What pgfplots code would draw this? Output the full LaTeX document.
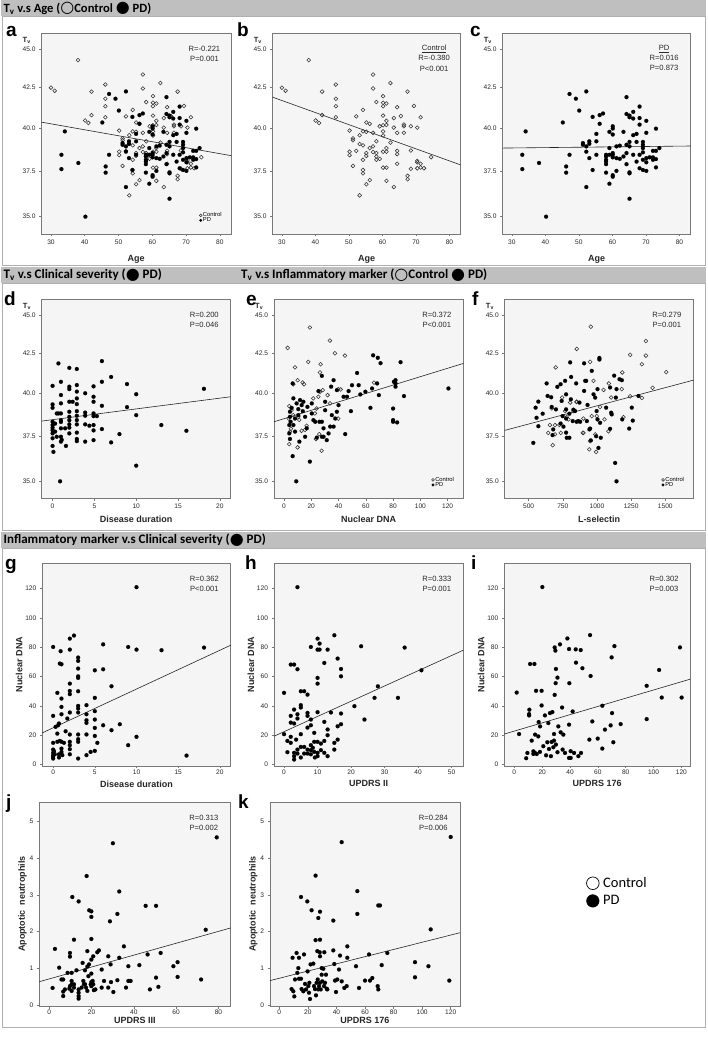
\documentclass[border=0pt]{standalone}
\usepackage{fontspec}
\setmainfont{Liberation Sans}
\newfontfamily\carlito{Carlito}
\newfontfamily\dejavu{DejaVu Sans}
\usepackage{pgfplots}
\usepackage{pgfplotstable}
\pgfplotsset{compat=1.18}

\definecolor{barc}{RGB}{191,191,191}
\definecolor{framec}{RGB}{175,175,175}
\definecolor{bgc}{RGB}{245,245,245}
\definecolor{axc}{RGB}{120,120,120}
\definecolor{txc}{RGB}{40,40,40}

\pgfplotsset{
 panel/.style={
  scale only axis, clip=false,
  axis background/.style={fill=bgc},
  axis line style={axc, line width=0.6pt},
  tick style={axc, line width=0.5pt},
  tick align=outside, major tick length=2.5pt,
  xtick pos=bottom, ytick pos=left, minor tick num=0,
  scaled ticks=false,
  /pgf/number format/1000 sep={},
  /pgf/number format/assume math mode=true,
  tick label style={font=\fontsize{6.6}{7}\selectfont, text=txc},
  label style={font=\bfseries\fontsize{9}{10}\selectfont, text=black!85},
  xlabel shift=3.5pt, ylabel shift=-4pt,
  anchor=south west,
 },
 rowtwo/.style={xticklabel shift=-1pt, xlabel shift=0.5pt},
 rowthree/.style={xticklabel shift=-2pt, xlabel shift=-1pt},
 rowfour/.style={xticklabel shift=-2pt, xlabel shift=-4pt},
 pdmk/.style={only marks, mark=*, mark size=2pt, black, mark options={fill=black, draw=black, line width=0.1pt}},
 ctrlmk/.style={only marks, mark=o, mark size=1.9pt, black, mark options={draw=black!80, line width=0.55pt}},
 regln/.style={no marks, line width=0.6pt, black!85, forget plot},
 smallleg/.style={legend style={at={(rel axis cs:0.955,0.05)}, anchor=south east, draw=none, fill=none,
   font=\fontsize{5.8}{5.8}\selectfont, row sep=-1.8pt, inner sep=0pt, nodes={inner sep=0.6pt},
   /tikz/every odd column/.append style={column sep=0.3pt}},
   legend cell align=left,
   legend image code/.code={\draw[##1, mark size=1.4pt] plot coordinates {(0pt,0pt)};}},
}
\newcommand{\stat}[1]{\node[anchor=north, align=center, inner sep=0pt, font=\fontsize{7.6}{9.6}\selectfont, text=txc] at (rel axis cs:0.86,0.935) {#1};}
\newcommand{\tvlab}{\node[font=\bfseries\fontsize{7.5}{8}\selectfont, text=black!85] at (rel axis cs:-0.078,0.962) {T\textsubscript{v}};}
\newcommand{\hc}[1]{{\dejavu\fontsize{16}{14}\selectfont\raisebox{-0.3pt}{#1}}}

% ---------------- data ----------------
\pgfplotstableread{
x y
30 42.5
31.1 42.3
38.0 44.3
42.0 42.25
40.1 40.45
41.1 40.3
42.0 40.78
46.1 42.7
46.1 41.8
46.1 41.33
46.1 40.65
50.2 39.85
50.2 38.6
50.2 38.4
51.2 39.38
51.2 39.27
51.2 37.78
52.2 40.7
52.2 38.65
53.2 39.05
53.2 39.57
53.2 36.14
54.2 41.1
54.2 39.8
54.2 38.97
54.2 38.13
54.2 37.55
54.2 37.36
55.2 40.33
55.2 39.77
55.2 38.52
55.2 38.36
55.2 36.75
56.2 40.25
56.2 38.81
56.2 36.98
57.2 43.35
57.2 42.45
57.2 39.71
57.2 38.91
57.2 38.58
58.2 41.59
58.2 39.21
58.2 38.52
58.2 38.32
58.2 38.13
59.2 40.1
59.2 38.19
60.2 41.96
60.2 41.55
60.2 41.33
60.2 40.75
60.2 40.16
60.2 39.8
60.2 39.55
60.2 38.6
60.2 37.68
61.2 41.5
61.2 40.43
61.2 40.18
61.2 38.81
61.2 38.6
61.2 37.68
61.2 36.94
62.4 42.8
62.4 39.13
63.4 40.6
63.4 40.02
63.4 36.6
64.4 41.27
64.4 39.71
64.4 38.65
64.4 38.46
64.4 37.9
65.5 40.72
66.4 40.2
66.4 40.1
66.4 39.71
67.5 42.25
67.5 37.22
67.5 37.03
68.5 40.1
68.5 38.67
68.5 37.62
69.4 41.35
70.4 40.02
70.4 38.07
70.4 37.99
70.4 37.65
71.4 40.65
71.4 37.9
72.4 37.65
74.5 38.28
71.4 37.69
}\ctrlAge

\pgfplotstableread{
x y
33.1 38.42
33.1 37.6
34.1 39.8
38.1 37.95
40.2 35.0
45.2 40.33
46.2 37.75
46.2 37.4
47.2 42.1
47.2 38.42
49.1 41.8
50.1 41.06
51.2 39.1
51.2 39.0
52.2 42.26
52.2 38.91
52.2 38.6
52.2 36.6
53.1 39.21
53.1 39.06
53.1 38.23
54.1 40.67
54.1 37.55
55.2 39.65
55.2 39.21
55.2 38.42
56.2 40.78
56.2 40.25
57.2 40.88
58.1 38.42
58.1 38.32
58.1 38.13
58.1 38.03
58.1 37.88
58.1 37.4
59.1 39.77
59.1 38.81
59.1 38.42
59.1 36.78
60.1 40.1
60.1 39.97
60.1 39.61
60.1 38.52
60.1 38.42
60.1 38.27
60.1 37.26
60.1 37.17
61.2 38.91
61.2 38.23
61.2 37.5
62.2 38.95
62.2 38.19
63.3 39.77
63.3 38.32
64.2 41.9
64.2 39.0
64.2 38.52
64.2 37.88
64.2 40.85
65.1 40.75
65.1 40.65
65.1 39.17
65.1 38.91
65.1 37.42
65.1 37.36
65.1 35.96
66.2 40.98
66.2 40.57
66.2 39.57
66.2 38.42
67.2 39.65
67.2 39.17
67.2 38.03
68.1 41.31
68.1 40.6
68.1 40.2
68.1 38.42
68.1 37.65
69.1 39.17
69.1 39.0
69.1 38.81
69.1 38.56
69.1 38.13
69.1 37.55
70.1 40.43
70.1 39.71
70.1 38.23
70.1 37.99
70.1 37.5
71.1 38.27
72.1 38.27
72.1 38.65
72.1 38.13
73.0 39.96
73.0 38.65
73.0 38.17
73.0 37.7
74.0 38.81
}\pdAge

\pgfplotstableread{
x y
0 40.45
0 39.33
0 39.13
0 38.31
0 38.12
0 37.97
0 37.81
0 37.64
0 37.36
0 36.93
0.1 36.6
0.3 38.2
0.3 37.74
0.5 37.45
0.5 38.8
0.7 38.8
0.7 41.85
1 39.4
1 38.8
1 38.4
1 38.3
1 37.93
1 37.45
1 37.17
0.9 35.0
1 40.7
1 39.9
1.1 37.27
1.5 37.93
1.6 36.93
2 41.57
2 40.4
2 40.25
2 39.49
2 38.9
2 38.6
2 38.4
2 38.16
2 37.97
2 37.64
2.4 39.49
2.9 41.5
2.9 40.5
2.9 40.1
2.9 39.69
2.9 39.35
2.9 38.93
2.9 38.66
2.9 38.41
2.9 38.16
2.9 37.68
2.9 37.32
2.9 37.2
3.9 40.0
3.9 38.85
3.9 38.66
3.9 38.16
3.9 37.17
4.4 38.08
4.9 38.8
4.9 38.64
4.9 38.12
4.9 37.81
4.9 37.26
4.9 39.79
4.9 40.42
4.9 39.49
5.3 38.64
5.9 42.0
5.9 40.7
5.9 39.25
5.9 37.89
7 41.0
7 37.13
8 37.6
8.9 40.56
8.9 39.17
10 39.95
10 38.7
10 35.84
13 38.12
16 37.79
18.1 40.27
}\pdDur

\pgfplotstableread{
x y
2.7 42.85
8.1 41.6
10 40.8
6.8 40.55
14.7 40.55
13.7 40.66
3.9 39.23
5.1 37.91
3.9 37.03
10 36.85
19 44.2
17.8 41.95
26.4 41.28
26.9 41.8
33.7 43.33
37.4 42.5
44.7 42.35
25.2 39.79
32 39.89
28.4 40.19
26.4 40.09
21.5 39.69
33.7 39.39
39.8 40.25
41.6 40.23
39.8 38.5
22.7 38.8
23.9 39.09
25.9 37.6
23.5 37.32
27.6 36.66
16.6 38.08
15.4 37.84
12.9 37.79
11.2 38.42
10.5 38.6
6.8 38.7
5.6 39.0
4.4 37.74
3.4 38.5
66 40.65
}\ctrlDNA

\pgfplotstableread{
x y
9 35.0
19 36.06
6.4 36.36
6.4 40.6
6.9 39.7
5.6 39.13
4.4 38.9
4.4 38.6
4.9 38.31
3.9 38.12
3.9 37.64
4.4 37.32
6.9 38.12
8.1 38.5
8.1 37.74
9.3 39.39
10.5 39.05
10.5 38.7
11.3 37.17
11.8 39.59
13 39.29
13.8 38.93
14.2 39.49
15.5 38.6
15.5 37.45
16.7 37.93
17.2 39.19
20.4 38.8
20.4 39.39
21.6 38.41
22.9 38.31
24.1 37.4
25.3 40.13
26 38.31
27.8 41.07
27.8 38.31
27.8 37.45
29 37.93
29 37.45
30.2 39.49
30.2 38.99
31.4 37.26
32.7 37.64
33.9 38.03
34.6 40.4
35.1 38.7
36.4 40.8
36.4 38.03
37.6 38.5
38.8 40.19
38.8 38.9
40 39.29
43.7 39.79
44.9 37.6
46.2 39.79
47.4 40.13
49.1 38.93
49.9 40.49
53.6 41.25
54.8 40.49
56 39.93
59.7 40.09
63.4 39.13
64.6 40.29
65.4 42.37
68.8 42.21
70.8 41.87
68.3 40.6
69.6 39.89
80 39.09
80 38.41
80 38.31
81.8 40.8
81.8 40.6
81.8 40.4
83 38.27
85.5 41.93
88 39.83
120.6 40.29
80.6 40.7
}\pdDNA

\pgfplotstableread{
x y
955 44.25
852 42.78
950 41.95
698 41.6
975 40.76
1048 40.2
1087 40.6
1104 39.75
1182 40.25
1185 41.28
1243 42.4
1329 41.8
1358 43.3
1358 42.35
1407 40.33
1507 41.3
1243 39.82
1329 39.72
1023 39.18
850 39.48
962 38.64
998 38.64
901 38.5
1055 38.45
1084 37.76
1194 38.58
901 37.67
987 37.58
944 36.74
994 36.6
950 37.2
676 36.97
644 37.67
656 38.12
693 38.12
725 38.12
735 37.67
693 37.58
779 38.58
791 38.45
767 38.94
828 38.94
852 39.5
804 39.44
669 39.1
745 39.75
896 37.67
}\ctrlSel

\pgfplotstableread{
x y
534 37.1
551 39.14
558 38.54
571 39.5
571 38.05
603 38.78
632 40.6
639 39.84
665 39.76
669 39.18
700 39.04
675 37.54
680 37.87
710 40.39
734 40.55
742 39.54
734 38.21
749 38.64
755 38.03
767 40.76
774 39.94
774 39.04
774 38.5
774 37.68
779 37.39
798 38.78
798 37.39
804 41.92
809 39.64
811 41.0
823 38.35
828 39.02
840 38.94
848 40.6
852 38.31
864 38.35
872 39.44
877 38.31
906 41.86
906 40.14
914 40.76
921 40.76
926 38.35
931 39.3
945 37.87
950 37.92
955 37.24
962 41.38
975 39.94
987 39.74
994 37.48
1004 40.25
1004 38.45
1018 42.2
1018 42.1
1023 38.25
1028 37.39
1011 36.82
998 38.94
1067 39.14
1096 40.35
1104 38.84
1108 38.74
1096 37.9
1126 41.08
1138 39.74
1143 40.25
1165 40.86
1182 40.8
1185 38.45
1133 35.99
1143 35.0
1236 37.92
1255 39.14
1262 38.38
1304 39.84
}\pdSel

\pgfplotstableread{
x y
0 80.2
0 33.2
0 14.8
0 10.2
0 8
0 6.4
0 5.2
0 4.1
0.1 9.1
0.2 7
0.3 25.7
0.5 15.5
0.5 48.9
0.6 26.8
0.5 21.1
0.7 28
0.7 7
0.7 4.8
0.8 16.1
0.8 68.9
1.0 68.4
0.9 77.3
1.0 45
1.0 39.3
1.0 34.3
1.0 15.5
1.0 10.9
1.0 8.6
1.1 6.4
1.3 14.8
1.5 22.7
1.7 31.4
2.0 85.9
2.0 78.4
2.0 55.2
2.0 50.2
2.0 48
2.0 35.5
2.0 20.5
2.0 15.5
2.0 13.2
2.0 10.5
2.0 7
2.5 88
3.0 73
3.0 70.7
3.0 65.5
3.0 60.2
3.0 59.1
3.0 50
3.0 40
3.0 38.2
3.0 35.5
3.0 20.5
3.0 17.3
3.0 15.5
3.0 4.1
4.0 40.5
4.0 34.3
4.0 30.2
4.0 28.4
4.0 20.5
4.0 6.4
4.5 8.6
5.0 64.3
5.0 45.5
5.0 36.4
5.0 30.7
5.0 25
5.0 19.5
5.0 9.3
5.3 14.8
6.0 82
6.0 65
6.0 26.8
7.0 53.4
7.0 23.4
8.0 27.5
9.0 80.2
9.0 13.2
10.0 121
10.0 78.4
10.0 18.9
13.0 78
16.0 6.1
18.1 79.8
}\durDNA

\pgfplotstableread{
x y
0 48.9
0 20.7
1 16.1
1 8.4
2 33.2
2 28.6
2 68.2
2 18.9
2 14.8
3 68.2
3 37.5
3 28
3 5.7
3 3.4
3 8
3.6 17
4 121
4 65
4 34.3
4 31.4
4 10.2
4 7.5
5 50
5 40.5
5 38.9
5 20.7
5 12
5 4.8
6 50
6 12
6 7.5
7 47.7
7 35.2
7 33.2
7 25.2
7 10.2
7 7.5
8 80.2
8 30.7
8 26.8
8 13.2
8 9.8
8 7
8.6 11.4
9 21.6
9 15.5
9 8.6
9.2 4.8
10 85.9
10 78.4
10 59.1
10 55.2
10 35.7
10 15.5
10 8
10 5.7
10.6 78.4
10.6 82.5
11 14.3
11 9.8
12 69.3
12 29.1
12 16.1
12 8
13 78.4
13 23.9
13 20
13 5.7
14 35.5
15 88.2
15 14.8
15 10.2
16 72.3
16 26.1
16 17
17 65.2
17 60.2
17 34.8
17 27.5
21 39.8
23 80.7
24 30.7
27 45.5
28 53.4
34 45.5
36 79.8
41 64.3
}\uIIDNA

\pgfplotstableread{
x y
8.5 4.3
9.4 7.9
3.4 20.8
1.7 49.1
10.6 33.5
10.6 34.4
11.3 68.6
14.4 68.6
12.5 16.3
13.7 9
14.9 7.9
16.1 7.2
10.8 37.4
17.5 29
18.5 26
13.7 7.2
14.9 20.4
15.6 50.3
17.2 19.2
18.4 8.6
19.6 40.3
19.6 50.3
20.1 121.1
20.8 12.5
22 33.5
22.8 6.3
23.7 15.2
24.4 28.3
24.9 10.6
25.6 35.1
26.3 5.7
26.8 15.4
27.3 35.8
28 11.8
28.5 20.8
29 47.5
29 79.9
29.5 77.7
29.7 55.5
29.9 65.2
31 59.3
31 8.4
29.9 13.6
28.5 16.3
31.6 26
32.8 82
33.3 22
34.3 38.9
35.2 20.4
34.7 10.2
36.4 7.9
38.1 86
39.3 78.8
39.5 55.5
39.3 27.2
39.3 4.5
40.5 4.5
40.5 9.1
41.9 36.2
42.9 7.9
44.1 78.6
44.3 69.5
46 5.7
47.7 78.1
48.9 65.7
47.9 7.9
54.4 88.3
54.8 60.4
53.9 17
56 29.4
59.9 17.7
63.2 10.9
63.2 40.1
65.1 23.8
69.2 26.7
69.9 73.1
70.2 35.1
71.1 15.2
71.9 80.8
76.4 27.6
95.1 53.7
95.1 31
104 64.5
105.9 45.7
119 79.9
120.2 45.7
}\uDNA

\pgfplotstableread{
x y
1.6 0.47
2.7 1.53
4.7 1.02
5.8 0.70
6.6 0.70
6.6 0.25
6.6 0.37
7.4 0.43
8.7 0.88
9.5 0.45
9.8 1.42
9.8 1.32
9.8 0.52
10.6 0.88
10.6 0.66
10.6 0.57
10.6 0.39
10.9 2.94
11.7 1.78
11.7 0.57
11.7 0.48
12.9 0.95
13.9 2.82
13.9 0.43
13.9 0.34
13.9 0.25
13.9 0.18
15.3 0.48
15.8 1.15
16.1 0.66
16.4 0.57
16.9 0.95
16.9 0.57
17.4 0.48
17.7 3.51
18 1.47
18 1.05
18 0.39
18.5 0.79
18.8 1.11
18.9 2.58
19.6 0.57
19.9 2.55
19.9 2.40
19.9 1.80
19.9 1.24
19.9 0.86
19.9 0.63
19.9 0.52
20.5 0.66
20.8 1.33
20.8 0.57
21.1 0.41
21.8 0.43
22.7 1.44
23.5 1.49
24.8 0.97
24.8 0.48
25.9 0.66
27.9 1.33
27.9 0.48
28.7 2.28
29 1.11
29.2 0.63
30.1 4.40
30.3 0.36
32.2 2.48
32.2 0.68
33.1 3.09
33.1 1.29
35.3 1.60
36.3 0.48
37.4 1.06
37.4 0.66
38.5 0.66
42.6 1.09
45.6 2.70
46.5 1.38
47.6 0.43
50.5 2.70
50.5 0.75
51.6 0.50
52.7 1.42
58.7 1.06
60.7 1.17
60.7 0.77
71.8 0.70
74 2.05
79.2 4.56
}\uIIIApo

\pgfplotstableread{
x y
9.3 1.29
8.6 0.44
9.8 0.38
10.5 0.24
11 0.70
12.1 1.42
12.6 0.88
13.3 1.01
13.8 1.29
13.8 0.72
15.2 2.94
15.2 0.72
15.6 0.44
16.8 0.38
17.3 1.38
18 0.58
18.7 0.43
19.6 2.82
19.8 0.92
20.3 0.52
20.8 0.34
21 0.61
21.5 0.17
21.9 1.11
22.6 2.58
23.8 1.13
24.3 0.52
25 0.44
25.4 1.77
25.4 3.52
25.7 0.27
26.1 0.61
26.6 1.47
26.9 0.70
27.3 2.37
27.3 0.43
27.8 0.52
28.3 1.44
28.5 2.54
28.5 1.78
28.5 1.33
28.5 0.61
29 0.43
29.7 1.01
29.7 0.83
30.1 0.65
30.8 0.99
31.3 0.52
31.5 1.44
32 0.61
32.7 0.83
33.2 0.45
33.6 0.43
37.8 2.30
37.8 1.49
38.5 1.12
39 0.67
39.7 0.36
40.6 0.70
41.8 0.97
42.5 1.35
43.7 4.43
43.7 0.65
45.5 0.47
47.2 0.52
47.6 1.60
47.6 1.29
53.7 1.06
54.6 2.48
54.6 3.10
55.8 0.47
60 0.67
62.8 1.38
63.5 0.67
65.1 0.74
68.9 0.52
69.3 0.43
69.3 2.71
70.5 2.71
71.7 1.09
75.6 1.42
95 1.17
95 0.76
104.4 1.06
106 2.06
119 0.67
120 4.57
}\uApo

\begin{document}
\begin{tikzpicture}[x=1pt,y=1pt]
\path[use as bounding box, fill=white] (0,0) rectangle (708,1038);
% section frames and header bars
\draw[framec, line width=0.6pt] (2,773) rectangle (705.5,1022);
\draw[framec, line width=0.6pt] (2,508) rectangle (705.5,755);
\draw[framec, line width=0.6pt] (2,11) rectangle (705.5,490);
\fill[barc] (1,1022) rectangle (706,1037.5);
\fill[barc] (1,755) rectangle (706,771);
\fill[barc] (1,490) rectangle (706,506);
\node[anchor=west, inner sep=0pt, font=\carlito\bfseries\fontsize{12.6}{14}\selectfont] at (3.5,1029.5)
  {T\textsubscript{v} v.s Age (\hc{○}Control \hc{●} PD)};
\node[anchor=west, inner sep=0pt, font=\carlito\bfseries\fontsize{13}{14}\selectfont] at (3.5,763)
  {T\textsubscript{v} v.s Clinical severity (\hc{●} PD)};
\node[anchor=west, inner sep=0pt, font=\carlito\bfseries\fontsize{13}{14}\selectfont] at (241,763)
  {T\textsubscript{v} v.s Inflammatory marker (\hc{○}Control \hc{●} PD)};
\node[anchor=west, inner sep=0pt, font=\carlito\bfseries\fontsize{13}{14}\selectfont] at (3.5,498)
  {Inflammatory marker v.s Clinical severity (\hc{●} PD)};
% panel letters
\foreach \l/\xx/\yy in {a/6/1001, b/237/1001, c/470/1001, d/4/732, e/246/732, f/472/732, g/5/468, h/245/468, i/471/468, j/6/229, k/238/229}
  \node[anchor=base west, inner sep=0pt, font=\bfseries\fontsize{19}{19}\selectfont] at (\xx,\yy) {\l};

% ---- a ----
\begin{axis}[panel, ymode=log, ymin=34.1, ymax=46.15, ytick={35,37.5,40,42.5,45}, yticklabels={35.0,37.5,40.0,42.5,45.0},
  at={(41.5pt,804pt)}, width=189.5pt, height=201pt,
  xmin=27.2, xmax=83.3, xtick={30,40,...,80}, xlabel={Age}, smallleg]
\addplot[ctrlmk] table {\ctrlAge}; \addlegendentry{Control}
\addplot[pdmk] table {\pdAge}; \addlegendentry{PD}
\addplot[regln] coordinates {(27.2,40.35) (83.3,38.37)};
\stat{R=-0.221\\P=0.001}\tvlab
\end{axis}
% ---- b ----
\begin{axis}[panel, ymode=log, ymin=34.1, ymax=46.15, ytick={35,37.5,40,42.5,45}, yticklabels={35.0,37.5,40.0,42.5,45.0},
  at={(272.5pt,804pt)}, width=188pt, height=201pt,
  xmin=27.2, xmax=83.3, xtick={30,40,...,80}, xlabel={Age}]
\addplot[ctrlmk] table {\ctrlAge};
\addplot[regln] coordinates {(27.2,41.9) (83.3,37.84)};
\node[anchor=north, align=center, inner sep=0pt, font=\fontsize{7.6}{10.2}\selectfont, text=txc] at (rel axis cs:0.86,0.94) {\underline{Control}\\R=-0.380\\P<0.001};
\tvlab
\end{axis}
% ---- c ----
\begin{axis}[panel, ymode=log, ymin=34.1, ymax=46.15, ytick={35,37.5,40,42.5,45}, yticklabels={35.0,37.5,40.0,42.5,45.0},
  at={(502.5pt,804pt)}, width=188pt, height=201pt,
  xmin=27.2, xmax=83.3, xtick={30,40,...,80}, xlabel={Age}]
\addplot[pdmk] table {\pdAge};
\addplot[regln] coordinates {(27.2,38.81) (83.3,38.93)};
\node[anchor=north, align=center, inner sep=0pt, font=\fontsize{7.6}{10.2}\selectfont, text=txc] at (rel axis cs:0.86,0.94) {\underline{PD}\\R=0.016\\P=0.873};
\tvlab
\end{axis}
% ---- d ----
\begin{axis}[panel, rowtwo, ymode=log, ymin=34.1, ymax=46.15, ytick={35,37.5,40,42.5,45}, yticklabels={35.0,37.5,40.0,42.5,45.0},
  at={(41.7pt,539.5pt)}, width=189pt, height=199.5pt,
  xmin=-1.3, xmax=21.3, xtick={0,5,...,20}, xlabel={Disease duration}]
\addplot[pdmk] table {\pdDur};
\addplot[regln] coordinates {(-1.3,38.35) (21.3,39.79)};
\stat{R=0.200\\P=0.046}\tvlab
\end{axis}
% ---- e ----
\begin{axis}[panel, rowtwo, ymode=log, ymin=34.1, ymax=46.15, ytick={35,37.5,40,42.5,45}, yticklabels={35.0,37.5,40.0,42.5,45.0},
  at={(274pt,539.5pt)}, width=189.3pt, height=199.5pt,
  xmin=-7.3, xmax=131.5, xtick={0,20,...,120}, xlabel={Nuclear DNA}, smallleg]
\addplot[ctrlmk] table {\ctrlDNA}; \addlegendentry{Control}
\addplot[pdmk] table {\pdDNA}; \addlegendentry{PD}
\addplot[regln] coordinates {(-7.3,38.31) (131.5,41.85)};
\stat{R=0.372\\P<0.001}\tvlab
\end{axis}
% ---- f ----
\begin{axis}[panel, rowtwo, ymode=log, ymin=34.1, ymax=46.15, ytick={35,37.5,40,42.5,45}, yticklabels={35.0,37.5,40.0,42.5,45.0},
  at={(504.7pt,539.5pt)}, width=188.6pt, height=199.5pt,
  xmin=325, xmax=1705, xtick={500,750,1000,1250,1500}, xlabel={L-selectin}, smallleg]
\addplot[ctrlmk] table {\ctrlSel}; \addlegendentry{Control}
\addplot[pdmk] table {\pdSel}; \addlegendentry{PD}
\addplot[regln] coordinates {(325,37.81) (1705,40.8)};
\stat{R=0.279\\P=0.001}\tvlab
\end{axis}
% ---- g ----
\begin{axis}[panel, rowthree, at={(42.3pt,272pt)}, width=188.4pt, height=203pt,
  xmin=-1.3, xmax=21.3, xtick={0,5,...,20}, ymin=-1, ymax=137.5, ytick={0,20,...,120},
  xlabel={Disease duration}, ylabel={Nuclear DNA}]
\addplot[pdmk] table {\durDNA};
\addplot[regln] coordinates {(-1.3,21.6) (21.3,81.4)};
\stat{R=0.362\\P<0.001}
\end{axis}
% ---- h ----
\begin{axis}[panel, rowthree, at={(274pt,272pt)}, width=189.3pt, height=203pt,
  xmin=-3, xmax=53.5, xtick={0,10,...,50}, ymin=-1, ymax=137.5, ytick={0,20,...,120},
  xlabel={UPDRS II}, ylabel={Nuclear DNA}]
\addplot[pdmk] table {\uIIDNA};
\addplot[regln] coordinates {(-3,19.3) (53.5,78)};
\stat{R=0.333\\P=0.001}
\end{axis}
% ---- i ----
\begin{axis}[panel, rowthree, at={(504.3pt,272pt)}, width=185.7pt, height=203pt,
  xmin=-7.2, xmax=126.2, xtick={0,20,...,120}, ymin=-1, ymax=137.5, ytick={0,20,...,120},
  xlabel={UPDRS 176}, ylabel={Nuclear DNA}]
\addplot[pdmk] table {\uDNA};
\addplot[regln] coordinates {(-7.2,20.8) (126.2,58.2)};
\stat{R=0.302\\P=0.003}
\end{axis}
% ---- j ----
\begin{axis}[panel, rowfour, at={(39.3pt,32pt)}, width=191.4pt, height=204pt,
  xmin=-4.7, xmax=85.8, xtick={0,20,...,80}, ymin=-0.02, ymax=5.52, ytick={0,1,...,5},
  xlabel={UPDRS III}, ylabel={Apoptotic\ \ neutrophils}]
\addplot[pdmk] table {\uIIIApo};
\addplot[regln] coordinates {(-4.7,0.64) (85.8,2.10)};
\stat{R=0.313\\P=0.002}
\end{axis}
% ---- k ----
\begin{axis}[panel, rowfour, at={(270pt,32pt)}, width=190pt, height=204pt,
  xmin=-6.5, xmax=126.5, xtick={0,20,...,120}, ymin=-0.02, ymax=5.52, ytick={0,1,...,5},
  xlabel={UPDRS 176}, ylabel={Apoptotic\ \ neutrophils},
  legend style={at={(axis description cs:1.665,0.636)}, anchor=north west, draw=none, fill=none,
    font=\carlito\fontsize{14.5}{16}\selectfont, row sep=4.5pt, inner sep=0pt, nodes={inner sep=1pt},
    /tikz/every odd column/.append style={column sep=3pt}},
  legend cell align=left,
  legend image code/.code={\draw[#1] plot coordinates {(0pt,0pt)};}]
\addplot[pdmk, forget plot] table {\uApo};
\addplot[regln] coordinates {(-6.5,0.67) (126.5,1.97)};
\addlegendimage{only marks, mark=o, mark size=6.3pt, mark options={draw=black, line width=0.7pt}}
\addlegendimage{only marks, mark=*, mark size=6.3pt, black}
\legend{Control,PD}
\stat{R=0.284\\P=0.006}
\end{axis}
\end{tikzpicture}
\end{document}
